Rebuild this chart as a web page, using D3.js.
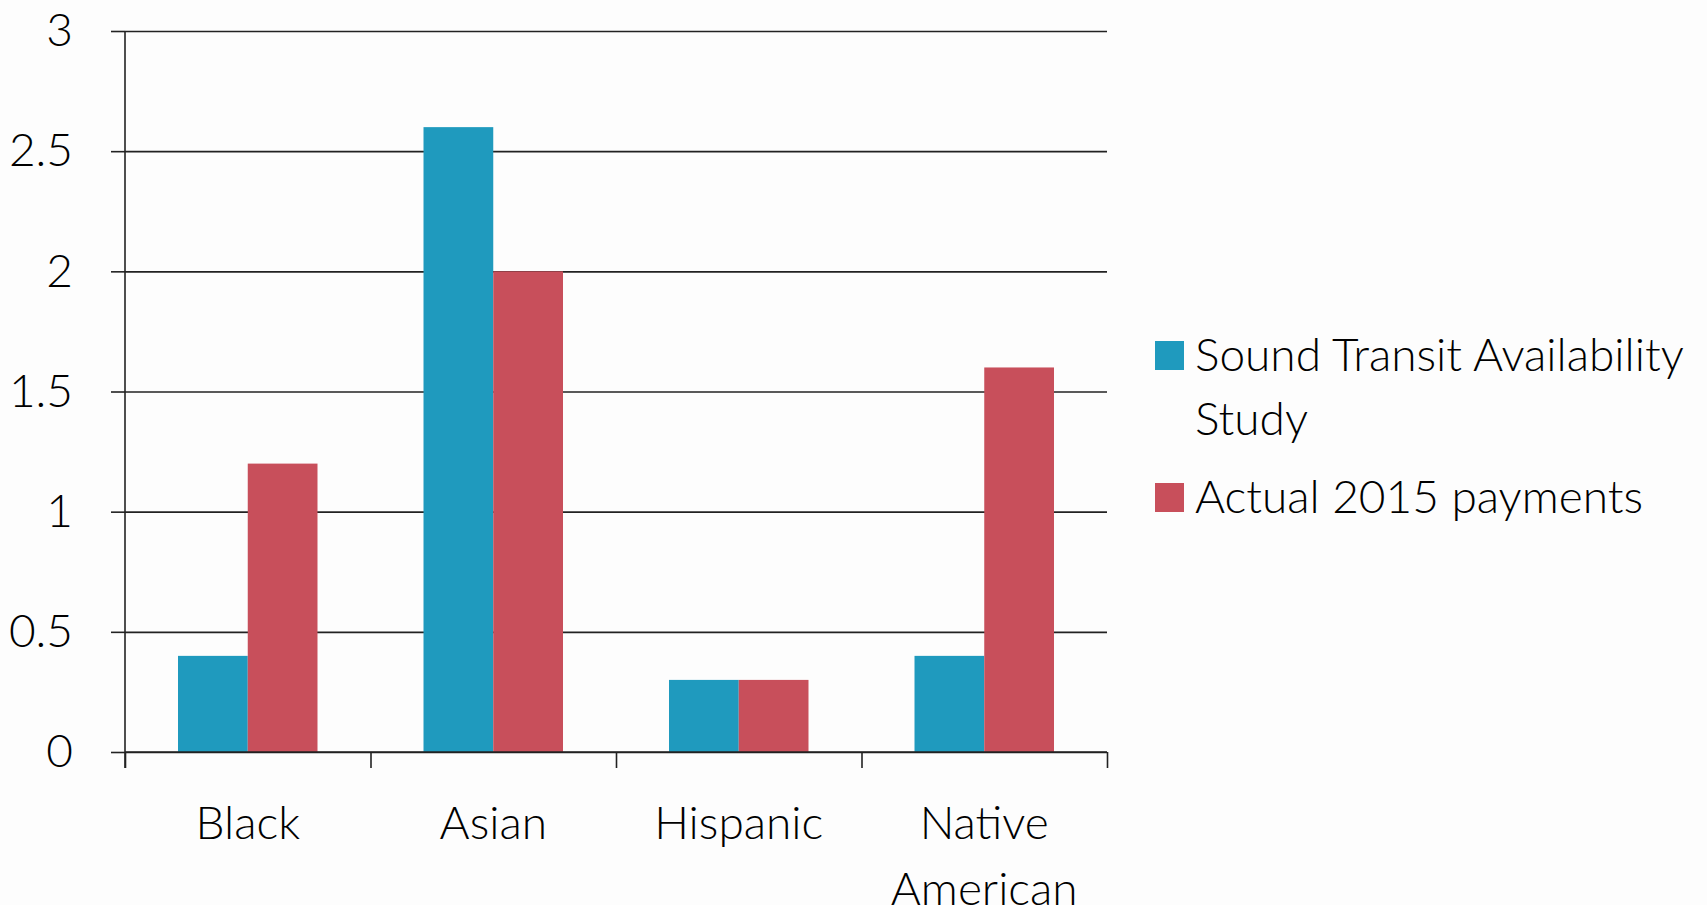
<!DOCTYPE html>
<html>
<head>
<meta charset="utf-8">
<script src="https://cdn.jsdelivr.net/npm/d3@7"></script>
<style>
  body { margin: 0; background: #fdfdfd; }
  text { font-family: Lato, "Open Sans", sans-serif; font-weight: 300; fill: #000; }
</style>
</head>
<body>
<script>
var categorias = ["Black", "Asian", "Hispanic", "Native American"];
var series = ["Sound Transit Availability Study", "Actual 2015 payments"];
var estudio = [0.4, 2.6, 0.3, 0.4];
var pagos = [1.2, 2.0, 0.3, 1.6];
var ticksY = [0, 0.5, 1, 1.5, 2, 2.5, 3];
var colores = ["#1f9abe", "#c84f5b"];

function graficar() {
    var w = 1707;
    var h = 905;
    var izq = 125, der = 1107, arriba = 31, abajo = 752;

    var svg = d3.select("body")
        .append("svg")
        .attr("width", w)
        .attr("height", h);

    var x = d3.scaleBand()
        .domain(categorias)
        .range([izq, der]);

    var xs = d3.scaleBand()
        .domain(series)
        .range([0, x.bandwidth()])
        .paddingOuter(0.76);

    var y = d3.scaleLinear()
        .domain([0, 3])
        .range([abajo, arriba]);

    // lineas de la grilla
    svg.append("g")
        .attr("transform", "translate(" + izq + ",0)")
        .call(d3.axisLeft(y).tickValues(ticksY).tickSize(-(der - izq)).tickFormat(""))
        .call(function(g) {
            g.select(".domain").remove();
            g.selectAll("line").attr("stroke", "#222").attr("stroke-width", 1.6);
        });

    // barras
    var filas = categorias.map(function(c, i) {
        return { cat: c, vals: [estudio[i], pagos[i]] };
    });

    svg.append("g")
        .selectAll("g")
        .data(filas)
        .enter()
        .append("g")
        .attr("transform", function(d) { return "translate(" + x(d.cat) + ",0)"; })
        .selectAll("rect")
        .data(function(d) { return d.vals; })
        .enter()
        .append("rect")
        .attr("x", function(d, i) { return xs(series[i]); })
        .attr("width", xs.bandwidth())
        .attr("y", function(d) { return y(d); })
        .attr("height", function(d) { return y(0) - y(d); })
        .attr("fill", function(d, i) { return colores[i]; });

    // eje Y
    svg.append("g")
        .attr("transform", "translate(" + izq + ",0)")
        .call(d3.axisLeft(y).tickValues(ticksY).tickSize(14).tickPadding(38)
            .tickFormat(function(d) { return d; }))
        .call(function(g) {
            g.select(".domain").attr("d", "M0," + arriba + "V" + (abajo + 16)).attr("stroke", "#222").attr("stroke-width", 1.6);
            g.selectAll("line").attr("stroke", "#222").attr("stroke-width", 1.6);
            g.selectAll("text").style("font-size", "46px").attr("fill", "#000");
        });

    // eje X: marcas en los limites de cada categoria
    var limites = d3.scaleLinear().domain([0, categorias.length]).range([izq, der]);
    svg.append("g")
        .attr("transform", "translate(0," + abajo + ")")
        .call(d3.axisBottom(limites).ticks(categorias.length).tickSize(16).tickFormat(""))
        .call(function(g) {
            g.select(".domain").attr("d", "M" + izq + ",0H" + der).attr("stroke", "#222").attr("stroke-width", 1.6);
            g.selectAll("line").attr("stroke", "#222").attr("stroke-width", 1.6);
        });

    // etiquetas de categorias
    var etiquetas = svg.append("g")
        .selectAll("text")
        .data(categorias)
        .enter()
        .append("text")
        .attr("text-anchor", "middle")
        .attr("x", function(d) { return x(d) + x.bandwidth() / 2; })
        .attr("y", abajo + 87)
        .style("font-size", "46px");

    etiquetas.each(function(d) {
        var t = d3.select(this);
        var px = x(d) + x.bandwidth() / 2;
        d.split(" ").forEach(function(p, i) {
            t.append("tspan")
                .attr("x", px)
                .attr("dy", i === 0 ? 0 : 66)
                .text(p);
        });
    });

    // leyenda
    var ley = svg.append("g").attr("transform", "translate(1155,341)");
    var lineas = [["Sound Transit Availability", "Study"], ["Actual 2015 payments"]];
    var posY = [0, 142];

    ley.selectAll("rect")
        .data(series)
        .enter()
        .append("rect")
        .attr("x", 0)
        .attr("y", function(d, i) { return posY[i]; })
        .attr("width", 29)
        .attr("height", 29)
        .attr("fill", function(d, i) { return colores[i]; });

    ley.selectAll("text")
        .data(series)
        .enter()
        .append("text")
        .style("font-size", "46px")
        .attr("y", function(d, i) { return posY[i] + 30; })
        .each(function(d, i) {
            var t = d3.select(this);
            lineas[i].forEach(function(p, j) {
                t.append("tspan")
                    .attr("x", 40)
                    .attr("dy", j === 0 ? 0 : 64)
                    .text(p);
            });
        });
}

graficar();
</script>
</body>
</html>
